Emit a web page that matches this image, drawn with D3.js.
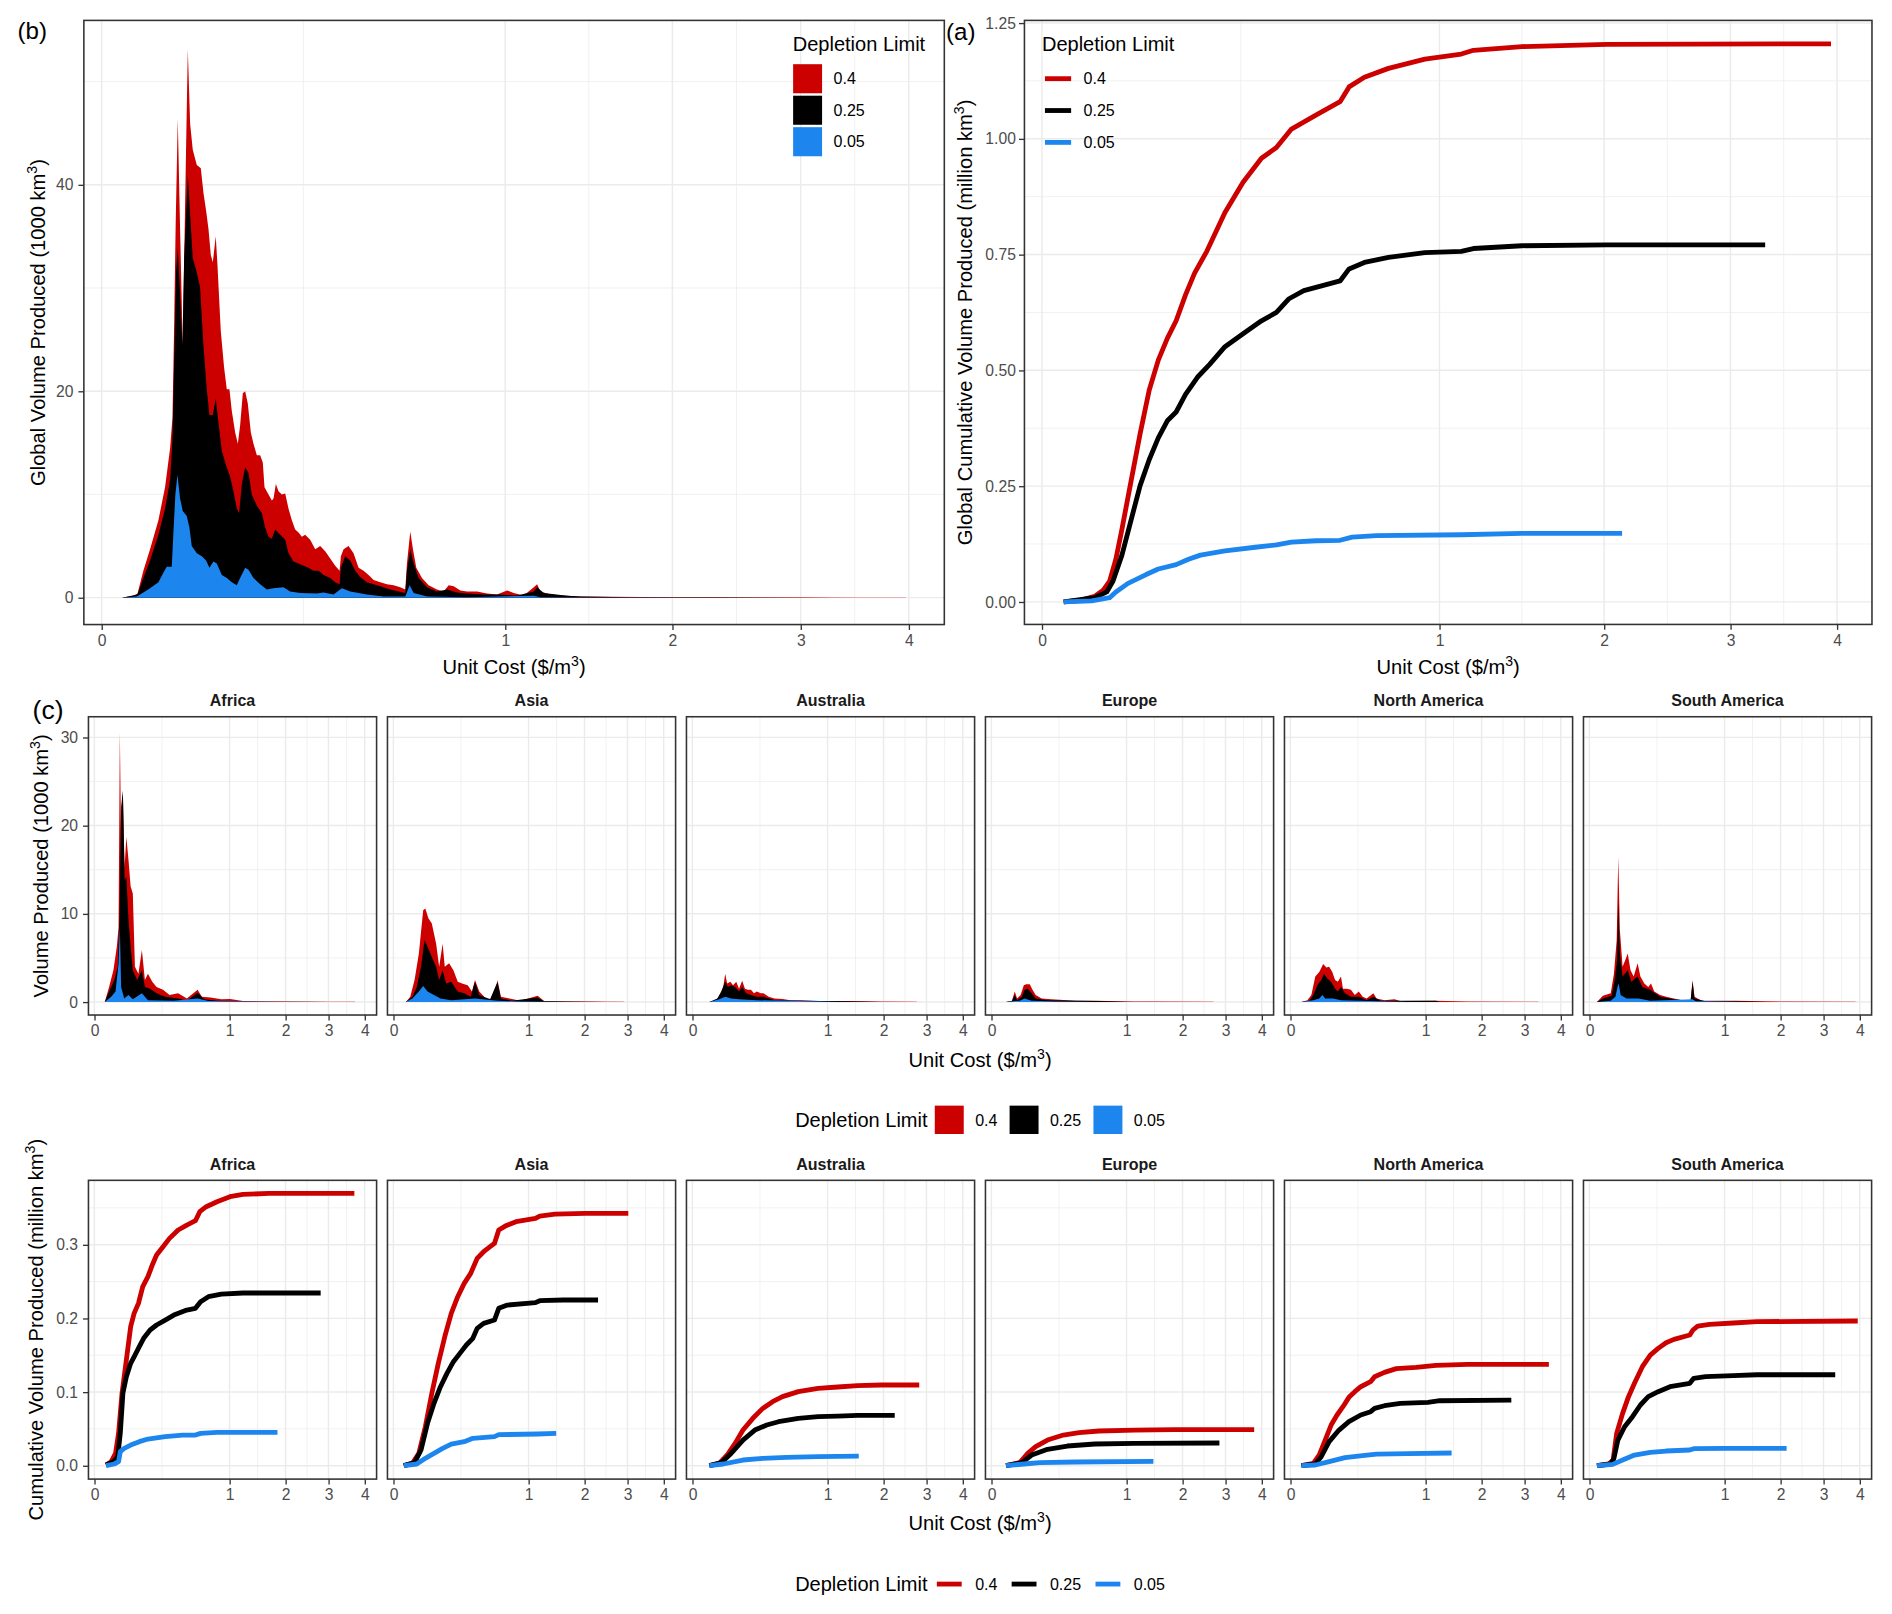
<!DOCTYPE html>
<html>
<head>
<meta charset="utf-8">
<script src="https://cdn.jsdelivr.net/npm/d3@7"></script>
<style>
  body { margin: 0; background: #fff; }
  text { font-family: "Liberation Sans", Arial, Helvetica, sans-serif; }
</style>
</head>
<body>
<svg id="chart"></svg>
<script>
// depletion limits and their colours
var limits = ["0.4", "0.25", "0.05"];
var limitColors = ["#CD0000", "#000000", "#1C86EE"];
var regions = ["Africa", "Asia", "Australia", "Europe", "North America", "South America"];

var costTicks = [0, 1, 2, 3, 4];
var globalVolTicks = [0, 20, 40];
var globalVolMinor = [10, 30, 50];
var globalCumTicks = [0, 0.25, 0.5, 0.75, 1, 1.25];
var globalCumMinor = [0.125, 0.375, 0.625, 0.875, 1.125];
var regionVolTicks = [0, 10, 20, 30];
var regionVolMinor = [5, 15, 25];
var regionCumTicks = [0, 0.1, 0.2, 0.3];
var regionCumMinor = [0.05, 0.15, 0.25, 0.35];

// (b) global volume produced, [unit cost, 1000 km3]
var globalVol40 = [[0.0025,0],[0.0062,0.18],[0.0079,0.4],[0.0107,2.6],[0.0144,4.7],[0.0198,7.5],[0.0247,10.7],[0.0288,14.5],[0.0308,17.4],[0.0322,25.8],[0.0337,36.4],[0.0356,46.4],[0.0378,35.7],[0.0404,24.4],[0.0428,38.2],[0.0456,53.1],[0.0481,45.9],[0.0510,43.4],[0.0556,41.9],[0.0604,41.6],[0.0637,39.2],[0.0670,37.5],[0.0701,35.7],[0.0732,33.2],[0.0759,32.5],[0.0800,35.0],[0.0824,32.2],[0.0872,25.8],[0.0921,22.3],[0.0962,20.2],[0.1003,20.2],[0.1040,18.1],[0.1095,16.0],[0.1139,14.9],[0.1178,16.7],[0.1224,19.8],[0.1265,20.0],[0.1312,18.8],[0.1367,16.0],[0.1416,14.9],[0.1479,13.8],[0.1543,13.8],[0.1595,13.1],[0.1629,10.7],[0.1710,10.0],[0.1779,9.4],[0.1814,9.6],[0.1864,11.0],[0.1921,10.3],[0.1994,10.0],[0.2069,10.1],[0.2145,8.6],[0.2222,7.5],[0.2300,6.6],[0.2380,6.3],[0.2462,5.9],[0.2544,6.1],[0.2671,5.6],[0.2801,4.7],[0.2933,5.0],[0.3069,4.5],[0.3208,3.8],[0.3350,3.1],[0.3476,2.6],[0.3515,4.0],[0.3594,4.7],[0.3744,5.0],[0.3897,4.3],[0.4054,2.9],[0.4213,2.6],[0.4376,2.2],[0.4542,1.7],[0.4767,1.5],[0.4999,1.3],[0.5235,1.2],[0.5476,1.0],[0.5661,0.8],[0.5723,3.3],[0.5849,6.4],[0.5951,4.7],[0.6079,2.9],[0.6301,1.9],[0.6565,1.2],[0.6905,0.8],[0.7183,0.6],[0.7395,1.2],[0.7609,1.1],[0.7900,0.7],[0.8197,0.6],[0.8652,0.6],[0.9119,0.4],[0.9598,0.3],[1.0091,0.7],[1.0426,0.45],[1.0939,0.2],[1.1465,1.0],[1.1643,1.3],[1.1821,0.6],[1.2366,0.3],[1.3303,0.18],[1.4075,0.1],[1.6,0.08],[2.0,0.05],[2.5,0.04],[3.0,0.03],[3.5,0.02],[3.97,0.02]];
var globalVol25 = [[0.0025,0],[0.0079,0.3],[0.0107,1.9],[0.0144,3.6],[0.0198,6.1],[0.0247,8.6],[0.0288,11.4],[0.0308,15.3],[0.0322,22.3],[0.0340,31.5],[0.0356,33.9],[0.0378,29.4],[0.0401,24.4],[0.0418,32.9],[0.0456,41.0],[0.0481,37.1],[0.0510,32.9],[0.0556,31.5],[0.0595,30.1],[0.0637,24.4],[0.0679,20.2],[0.0714,17.7],[0.0759,17.7],[0.0800,19.3],[0.0838,17.0],[0.0887,14.2],[0.0952,12.8],[0.1014,11.7],[0.1067,10.3],[0.1122,8.6],[0.1161,8.2],[0.1207,11.0],[0.1265,12.6],[0.1324,12.1],[0.1385,10.0],[0.1479,8.9],[0.1576,8.2],[0.1642,6.8],[0.1710,5.9],[0.1779,5.7],[0.1849,6.6],[0.1957,6.1],[0.2069,5.6],[0.2145,4.3],[0.2261,3.5],[0.2380,3.3],[0.2503,3.1],[0.2629,2.9],[0.2757,2.6],[0.2889,2.6],[0.3024,2.2],[0.3208,1.9],[0.3350,1.5],[0.3476,1.3],[0.3515,2.9],[0.3643,4.0],[0.3795,3.6],[0.3949,2.6],[0.4106,2.0],[0.4322,1.5],[0.4654,1.2],[0.5116,0.8],[0.5661,0.45],[0.5723,2.6],[0.5849,4.7],[0.5977,3.3],[0.6170,1.9],[0.6498,1.0],[0.6905,0.6],[0.7324,0.8],[0.7754,0.5],[0.8197,0.4],[0.8962,0.3],[0.9761,0.3],[1.0596,0.2],[1.1465,0.6],[1.1643,1.0],[1.2001,0.45],[1.3303,0.18],[1.4075,0.1],[1.7,0.05],[2.3,0.03],[3.3,0]];
var globalVol05 = [[0.0025,0],[0.0076,0.1],[0.0107,0.5],[0.0144,0.9],[0.0198,1.5],[0.0234,2.4],[0.0260,3.0],[0.0302,3.0],[0.0317,6.4],[0.0334,10.0],[0.0353,11.9],[0.0378,9.6],[0.0404,8.4],[0.0445,7.9],[0.0473,6.8],[0.0499,5.0],[0.0556,4.3],[0.0616,4.0],[0.0670,3.6],[0.0714,2.9],[0.0768,3.5],[0.0814,3.3],[0.0887,2.2],[0.0962,1.9],[0.1040,1.5],[0.1122,1.2],[0.1178,1.9],[0.1265,2.9],[0.1324,2.7],[0.1416,1.9],[0.1543,1.3],[0.1676,0.8],[0.1814,0.9],[0.2031,1.0],[0.2183,0.6],[0.2421,0.45],[0.2845,0.4],[0.3024,0.5],[0.3303,0.3],[0.3544,0.9],[0.3795,0.6],[0.4322,0.3],[0.4882,0.1],[0.5661,0.1],[0.5824,1.2],[0.5977,0.45],[0.6498,0.1],[0.8197,0.05],[1.1465,0.18],[1.1821,0.05],[1.4075,0.02],[2.13,0]];

// (a) global cumulative volume, [unit cost, million km3]
var globalCum40 = [[0.003,0],[0.0089,0.003],[0.0176,0.012],[0.024,0.026],[0.029,0.045],[0.0346,0.092],[0.0405,0.157],[0.0502,0.26],[0.061,0.363],[0.0728,0.457],[0.0857,0.522],[0.0995,0.569],[0.114,0.607],[0.1305,0.663],[0.1475,0.71],[0.172,0.757],[0.212,0.841],[0.256,0.906],[0.305,0.958],[0.348,0.981],[0.394,1.021],[0.475,1.051],[0.5625,1.08],[0.597,1.112],[0.658,1.133],[0.76,1.152],[0.928,1.172],[1.113,1.183],[1.178,1.191],[1.458,1.199],[2.02,1.204],[3.94,1.205]];
var globalCum25 = [[0.003,0],[0.0176,0.009],[0.0266,0.0215],[0.032,0.045],[0.0405,0.101],[0.0502,0.176],[0.061,0.251],[0.0728,0.307],[0.0857,0.354],[0.0995,0.391],[0.114,0.41],[0.1305,0.448],[0.153,0.485],[0.178,0.513],[0.212,0.551],[0.256,0.579],[0.305,0.607],[0.348,0.625],[0.385,0.654],[0.434,0.672],[0.518,0.686],[0.5625,0.693],[0.597,0.719],[0.658,0.733],[0.76,0.744],[0.928,0.754],[1.113,0.757],[1.178,0.763],[1.458,0.769],[2.02,0.771],[3.31,0.771]];
var globalCum05 = [[0.003,0],[0.0156,0.002],[0.029,0.009],[0.0346,0.0215],[0.0469,0.04],[0.0687,0.059],[0.0857,0.071],[0.114,0.0805],[0.136,0.092],[0.159,0.101],[0.212,0.11],[0.288,0.118],[0.348,0.123],[0.394,0.129],[0.475,0.132],[0.5625,0.133],[0.609,0.14],[0.708,0.143],[1.113,0.145],[1.458,0.148],[2.13,0.148]];

// (c) volume produced by region
var volAfr40 = [[0.0059,0],[0.0118,1.7],[0.0198,3.6],[0.0276,6.3],[0.032,8.5],[0.0355,30.6],[0.0392,17.6],[0.0444,23.6],[0.050,15.3],[0.0559,18.7],[0.0637,16.1],[0.072,13.1],[0.0808,12.3],[0.090,4.0],[0.1062,3.2],[0.1235,5.9],[0.1397,2.5],[0.1569,3.2],[0.1833,2.3],[0.2117,1.7],[0.258,1.4],[0.309,0.8],[0.384,1.0],[0.468,0.4],[0.583,1.4],[0.633,0.6],[0.738,0.5],[0.882,0.3],[1.006,0.35],[1.208,0.1],[1.666,0.05],[2.39,0.03],[3.72,0.02]];
var volAfr25 = [[0.0059,0],[0.0118,1.2],[0.0216,2.5],[0.0298,4.0],[0.0343,9.3],[0.0392,22.1],[0.0444,24.0],[0.050,13.8],[0.0559,14.2],[0.0637,9.3],[0.072,6.3],[0.0808,3.6],[0.100,2.5],[0.1235,3.6],[0.1397,1.7],[0.170,1.5],[0.2117,1.0],[0.2745,0.6],[0.384,0.4],[0.468,0.15],[0.583,1.06],[0.6586,0.3],[0.823,0.15],[1.208,0.04],[2.39,0.02],[3.02,0]];
var volAfr05 = [[0.0059,0],[0.0155,0.6],[0.0245,1.2],[0.032,4.4],[0.0355,8.5],[0.0392,1.7],[0.0486,0.4],[0.0637,0.8],[0.0808,0.3],[0.1235,1.0],[0.1569,0.2],[0.3455,0.15],[0.583,0.4],[0.711,0.1],[1.666,0.02]];
var volAsi40 = [[0.0086,0],[0.0155,0.6],[0.0245,2.5],[0.0355,5.5],[0.0486,10.4],[0.0559,10.6],[0.067,9.5],[0.0808,8.9],[0.100,6.6],[0.1147,4.0],[0.1327,6.6],[0.1445,4.0],[0.1699,4.4],[0.1972,3.6],[0.2266,2.3],[0.258,2.1],[0.302,1.9],[0.338,1.2],[0.3646,2.5],[0.404,1.2],[0.4675,0.4],[0.559,0.3],[0.593,2.5],[0.633,0.6],[0.7386,0.4],[0.882,0.15],[1.139,0.7],[1.243,0.1],[1.585,0.05],[2.91,0.02]];
var volAsi25 = [[0.0086,0],[0.0198,0.6],[0.0298,1.7],[0.0418,4.0],[0.0529,7.0],[0.0637,6.3],[0.0808,5.1],[0.100,4.0],[0.1147,2.5],[0.1327,3.6],[0.152,2.1],[0.1833,2.3],[0.2266,1.2],[0.2746,1.0],[0.327,0.6],[0.3646,2.3],[0.404,0.8],[0.512,0.3],[0.593,2.3],[0.633,0.4],[0.766,0.15],[1.139,0.5],[1.243,0.08],[2.49,0]];
var volAsi05 = [[0.0086,0],[0.0198,0.4],[0.0355,1.2],[0.0486,1.8],[0.0637,1.2],[0.0902,0.8],[0.1212,0.4],[0.1833,0.2],[0.3646,0.4],[0.593,0.15],[0.882,0.05],[1.585,0]];
var volAus40 = [[0.0158,0],[0.0288,0.2],[0.0395,0.6],[0.052,1.7],[0.0589,3.2],[0.0662,2.1],[0.0788,2.3],[0.0907,1.9],[0.1053,2.3],[0.119,1.5],[0.1357,2.4],[0.1512,1.5],[0.1676,1.4],[0.1873,1.4],[0.208,1.0],[0.2271,1.2],[0.2559,1.0],[0.277,1.0],[0.3185,0.6],[0.3699,0.4],[0.4444,0.35],[0.5258,0.2],[0.6372,0.2],[0.8645,0.1],[1.287,0.1],[1.872,0.05],[2.758,0.02]];
var volAus25 = [[0.0158,0],[0.0339,0.4],[0.0456,1.2],[0.0589,2.3],[0.0693,1.7],[0.0821,1.9],[0.0997,1.7],[0.119,1.2],[0.1357,1.7],[0.1582,1.0],[0.1873,0.8],[0.2271,0.6],[0.277,0.6],[0.3699,0.2],[0.614,0.15],[1.287,0.08],[1.954,0]];
var volAus05 = [[0.0158,0],[0.0395,0.3],[0.0589,0.6],[0.0821,0.4],[0.119,0.3],[0.2271,0.2],[0.614,0.1],[1.158,0]];
var volEur40 = [[0.0117,0],[0.0231,0.15],[0.0298,1.2],[0.0361,0.4],[0.0468,0.8],[0.0575,1.9],[0.0662,2.0],[0.0804,2.0],[0.0925,1.4],[0.1072,0.8],[0.1379,0.4],[0.1975,0.3],[0.3843,0.15],[0.6095,0.15],[1.0,0.05],[1.451,0.05],[2.7,0.02]];
var volEur25 = [[0.0117,0],[0.0231,0.1],[0.0298,0.8],[0.0361,0.2],[0.0507,0.6],[0.0603,1.4],[0.0724,1.5],[0.0889,1.0],[0.1072,0.4],[0.1724,0.2],[0.6095,0.1],[1.12,0]];
var volEur05 = [[0.0117,0],[0.0443,0.15],[0.0603,0.4],[0.0889,0.15],[0.2244,0.05],[0.587,0]];
var volNAm40 = [[0.0067,0],[0.0158,0.2],[0.024,0.8],[0.0339,2.9],[0.0456,3.4],[0.0589,4.3],[0.0708,3.9],[0.0821,4.0],[0.0961,3.4],[0.1092,2.5],[0.1231,2.3],[0.1401,2.9],[0.1512,1.5],[0.1748,1.5],[0.2001,1.4],[0.2271,0.8],[0.2559,1.2],[0.2863,0.6],[0.3185,0.4],[0.377,1.0],[0.4063,0.4],[0.4843,0.2],[0.5914,0.3],[0.6608,0.1],[1.158,0.15],[1.716,0.05],[3.37,0.02]];
var volNAm25 = [[0.0067,0],[0.0197,0.15],[0.0288,0.8],[0.0395,1.9],[0.052,2.5],[0.0618,3.2],[0.0739,2.7],[0.0907,2.3],[0.1092,1.5],[0.1231,1.2],[0.1401,1.7],[0.1628,1.0],[0.2001,0.6],[0.2559,0.6],[0.3185,0.2],[0.377,0.6],[0.4444,0.15],[1.158,0.15],[1.222,0]];
var volNAm05 = [[0.0067,0],[0.0288,0.2],[0.0456,0.4],[0.0561,0.8],[0.0662,0.4],[0.0997,0.4],[0.1401,0.2],[0.3352,0.1],[0.759,0]];
var volSAm40 = [[0.0031,0],[0.0099,0.7],[0.0249,1.0],[0.0329,3.2],[0.0407,7.0],[0.0456,16.5],[0.0507,8.2],[0.0603,4.0],[0.0708,4.8],[0.0804,5.5],[0.0925,3.6],[0.1072,2.9],[0.1273,4.4],[0.1423,2.9],[0.1652,2.1],[0.1898,1.7],[0.208,2.1],[0.2299,1.2],[0.2739,0.8],[0.3218,0.6],[0.3915,0.4],[0.4681,0.2],[0.5603,0.15],[0.5824,2.5],[0.605,0.6],[0.6896,0.15],[1.164,0.15],[2.086,0.05],[3.88,0.02]];
var volSAm25 = [[0.0031,0],[0.0099,0.4],[0.0268,0.7],[0.035,2.5],[0.0419,4.8],[0.0456,11.6],[0.0507,5.5],[0.0603,2.9],[0.0804,3.6],[0.0961,2.3],[0.1273,2.9],[0.1535,1.7],[0.2028,1.4],[0.2739,0.6],[0.3915,0.3],[0.5603,0.1],[0.5824,2.3],[0.605,0.4],[0.739,0.08],[1.164,0.08],[1.686,0]];
var volSAm05 = [[0.0031,0],[0.0249,0.15],[0.0372,0.6],[0.0431,1.7],[0.0468,2.1],[0.0534,0.8],[0.0755,0.4],[0.1315,0.4],[0.2028,0.15],[0.5824,0.3],[0.6186,0.08],[1.327,0]];

// (c) cumulative volume by region
var cumAfr40 = [[0.0074,0.001],[0.0155,0.0054],[0.0245,0.0167],[0.032,0.0439],[0.0418,0.0982],[0.0559,0.1434],[0.072,0.1887],[0.0864,0.2068],[0.1062,0.2204],[0.128,0.243],[0.157,0.2566],[0.1833,0.2724],[0.2117,0.286],[0.258,0.2973],[0.309,0.3086],[0.3842,0.32],[0.4675,0.3267],[0.559,0.3326],[0.6077,0.3448],[0.6848,0.3516],[0.8232,0.3584],[1.006,0.3652],[1.208,0.3683],[1.666,0.3697],[3.70,0.3697]];
var cumAfr25 = [[0.0074,0.001],[0.0198,0.0054],[0.0298,0.0122],[0.0367,0.0439],[0.0445,0.0982],[0.0559,0.1208],[0.072,0.1389],[0.0902,0.1502],[0.1104,0.1615],[0.1327,0.1729],[0.1699,0.1842],[0.2117,0.191],[0.2746,0.1977],[0.3456,0.2045],[0.4675,0.2113],[0.559,0.2136],[0.6177,0.2226],[0.7114,0.2294],[0.8823,0.233],[1.208,0.2344],[2.803,0.2344]];
var cumAfr05 = [[0.0074,0],[0.0216,0.0023],[0.032,0.0054],[0.0367,0.019],[0.0486,0.0235],[0.072,0.028],[0.1104,0.0326],[0.157,0.0362],[0.2746,0.0394],[0.4248,0.0416],[0.559,0.0416],[0.6177,0.0439],[0.8232,0.0452],[1.835,0.0452]];
var cumAsi40 = [[0.0059,0],[0.0198,0.0032],[0.0355,0.0167],[0.0559,0.0529],[0.0808,0.0982],[0.1104,0.1389],[0.1445,0.1751],[0.1833,0.2068],[0.2266,0.2294],[0.2746,0.2475],[0.327,0.2611],[0.3842,0.2814],[0.4459,0.2905],[0.5122,0.2973],[0.559,0.3018],[0.6077,0.3199],[0.6848,0.3253],[0.8232,0.3312],[1.1048,0.3357],[1.173,0.3389],[1.428,0.3416],[2.012,0.3425],[3.021,0.3425]];
var cumAsi25 = [[0.0059,0],[0.0245,0.0041],[0.0418,0.0213],[0.0637,0.0575],[0.0902,0.0846],[0.1213,0.1072],[0.157,0.1253],[0.1972,0.1412],[0.2421,0.1525],[0.2915,0.1638],[0.3456,0.1729],[0.3842,0.1864],[0.4459,0.1932],[0.559,0.1977],[0.6077,0.2136],[0.7114,0.2181],[1.1048,0.2213],[1.173,0.224],[1.5846,0.2249],[2.293,0.2249]];
var cumAsi05 = [[0.0059,0],[0.0298,0.0023],[0.0559,0.01],[0.0902,0.0167],[0.1327,0.0235],[0.1833,0.0294],[0.2746,0.0326],[0.3456,0.0371],[0.559,0.0394],[0.6077,0.0421],[1.1387,0.043],[1.451,0.0439]];
var cumAus40 = [[0.0158,0],[0.0395,0.0032],[0.0662,0.0145],[0.0997,0.0303],[0.1401,0.0484],[0.2001,0.0643],[0.2709,0.0778],[0.3523,0.0869],[0.4444,0.0937],[0.614,0.1005],[0.8645,0.105],[1.158,0.1068],[1.494,0.1086],[1.953,0.1095],[2.817,0.1095]];
var cumAus25 = [[0.0158,0],[0.0456,0.0041],[0.0821,0.0167],[0.1401,0.0348],[0.2134,0.0484],[0.3022,0.0552],[0.4063,0.0597],[0.614,0.0643],[0.8645,0.0665],[1.158,0.0674],[1.494,0.0683],[2.241,0.0683]];
var cumAus05 = [[0.0158,0],[0.052,0.0023],[0.1401,0.0077],[0.2709,0.01],[0.4843,0.0113],[0.8645,0.0122],[1.515,0.0131]];
var cumEur40 = [[0.0117,0],[0.0443,0.0041],[0.0724,0.0167],[0.1072,0.0258],[0.1724,0.0348],[0.2832,0.0416],[0.4214,0.0448],[0.6325,0.0471],[1.12,0.0484],[1.825,0.0489],[3.78,0.0489]];
var cumEur25 = [[0.0117,0],[0.0507,0.0041],[0.0889,0.0145],[0.1724,0.0222],[0.3152,0.0267],[0.5869,0.0294],[1.12,0.0303],[2.846,0.0308]];
var cumEur05 = [[0.0117,0],[0.0575,0.0023],[0.1273,0.0041],[0.3843,0.005],[1.437,0.0059]];
var cumNAm40 = [[0.0067,0],[0.0288,0.0032],[0.0456,0.0145],[0.0662,0.0348],[0.0907,0.0552],[0.119,0.0688],[0.1512,0.0801],[0.1873,0.0928],[0.2271,0.1005],[0.2709,0.1072],[0.3523,0.114],[0.3879,0.1208],[0.4843,0.1267],[0.614,0.1317],[0.8645,0.1335],[1.158,0.1362],[1.716,0.1376],[3.657,0.1376]];
var cumNAm25 = [[0.0067,0],[0.0339,0.0023],[0.052,0.0122],[0.0821,0.0326],[0.1293,0.0484],[0.1873,0.0597],[0.2709,0.0688],[0.3523,0.0733],[0.3879,0.0778],[0.4843,0.0814],[0.6608,0.0846],[1.0353,0.086],[1.2216,0.0882],[2.672,0.0891]];
var cumNAm05 = [[0.0067,0],[0.0339,0.0009],[0.0821,0.0054],[0.1628,0.0109],[0.3022,0.014],[0.4063,0.0158],[0.759,0.0163],[1.423,0.0172]];
var cumSAm40 = [[0.0031,0],[0.0205,0.0023],[0.0308,0.0077],[0.0407,0.0439],[0.0603,0.071],[0.0838,0.0937],[0.1111,0.1118],[0.1535,0.1344],[0.2028,0.1502],[0.2589,0.1593],[0.3218,0.167],[0.3915,0.1715],[0.5516,0.1774],[0.5869,0.1842],[0.6419,0.1896],[0.7901,0.1919],[1.1327,0.1937],[1.5371,0.1955],[3.942,0.1964]];
var cumSAm25 = [[0.0031,0],[0.0249,0.0023],[0.0329,0.01],[0.0443,0.0348],[0.0677,0.0529],[0.1016,0.0665],[0.1423,0.0824],[0.1898,0.0937],[0.2589,0.1005],[0.3558,0.1072],[0.5516,0.1118],[0.5959,0.1186],[0.739,0.1208],[1.1327,0.1222],[1.5371,0.1235],[3.308,0.1235]];
var cumSAm05 = [[0.0031,0],[0.0298,0.0018],[0.0603,0.0077],[0.1111,0.0145],[0.2028,0.0181],[0.3218,0.0199],[0.5516,0.0213],[0.5959,0.0231],[1.0117,0.0235],[2.129,0.0235]];

var regionVol = [[volAfr40, volAfr25, volAfr05], [volAsi40, volAsi25, volAsi05], [volAus40, volAus25, volAus05],
                 [volEur40, volEur25, volEur05], [volNAm40, volNAm25, volNAm05], [volSAm40, volSAm25, volSAm05]];
var regionCum = [[cumAfr40, cumAfr25, cumAfr05], [cumAsi40, cumAsi25, cumAsi05], [cumAus40, cumAus25, cumAus05],
                 [cumEur40, cumEur25, cumEur05], [cumNAm40, cumNAm25, cumNAm05], [cumSAm40, cumSAm25, cumSAm05]];

// drawing is done in a 1568 wide space and scaled to the window
var W = 1568, H = 1337.6;
var svg = d3.select("#chart")
  .attr("width", 1892)
  .attr("height", 1614)
  .attr("viewBox", "0 0 " + W + " " + H);

var gridColor = "#EBEBEB";
var clipId = 0;

// minor x breaks sit halfway between major ones on the sqrt scale
var costMinor = d3.pairs(costTicks).map(function(p) {
  var m = (Math.sqrt(p[0]) + Math.sqrt(p[1])) / 2;
  return m * m;
});

function supTitle(sel, before, after) {
  sel.append("tspan").text(before);
  sel.append("tspan").attr("baseline-shift", "super").attr("font-size", "70%").text("3");
  sel.append("tspan").text(after);
}

var makePanel = function(p) {
  var g = svg.append("g");
  var unit = p.w / 2.132;
  var x = d3.scaleSqrt().domain([0, 4]).range([p.left + 0.044 * unit, p.left + 2.044 * unit]);
  var y = d3.scaleLinear().domain(p.yDomain).range([p.top + p.h, p.top]);

  g.append("rect").attr("x", p.left).attr("y", p.top).attr("width", p.w).attr("height", p.h).attr("fill", "#fff");

  // grid
  g.selectAll(".gxm").data(costMinor).enter().append("line")
    .attr("x1", x).attr("x2", x).attr("y1", p.top).attr("y2", p.top + p.h)
    .attr("stroke", gridColor).attr("stroke-width", 0.6);
  g.selectAll(".gym").data(p.yMinor).enter().append("line")
    .attr("y1", y).attr("y2", y).attr("x1", p.left).attr("x2", p.left + p.w)
    .attr("stroke", gridColor).attr("stroke-width", 0.6);
  g.selectAll(".gx").data(costTicks).enter().append("line")
    .attr("x1", x).attr("x2", x).attr("y1", p.top).attr("y2", p.top + p.h)
    .attr("stroke", gridColor).attr("stroke-width", 1.2);
  g.selectAll(".gy").data(p.yTicks).enter().append("line")
    .attr("y1", y).attr("y2", y).attr("x1", p.left).attr("x2", p.left + p.w)
    .attr("stroke", gridColor).attr("stroke-width", 1.2);

  var id = "clip" + (clipId++);
  svg.append("clipPath").attr("id", id).append("rect")
    .attr("x", p.left).attr("y", p.top).attr("width", p.w).attr("height", p.h);
  var plot = g.append("g").attr("clip-path", "url(#" + id + ")");

  return {g: g, plot: plot, x: x, y: y, p: p};
};

var finishPanel = function(pan, showY) {
  var p = pan.p;
  pan.g.append("rect").attr("x", p.left).attr("y", p.top).attr("width", p.w).attr("height", p.h)
    .attr("fill", "none").attr("stroke", "#333333").attr("stroke-width", 1.3);

  var axes = [];
  axes.push(pan.g.append("g").attr("transform", "translate(0," + (p.top + p.h) + ")")
    .call(d3.axisBottom(pan.x).tickValues(costTicks).tickFormat(d3.format("d")).tickSize(4.5).tickPadding(3.9)));
  // facets share the y axis, only the first one draws it
  if (showY) {
    axes.push(pan.g.append("g").attr("transform", "translate(" + p.left + ",0)")
      .call(d3.axisLeft(pan.y).tickValues(p.yTicks).tickFormat(p.yFmt).tickSize(4.5).tickPadding(p.yPad)));
  }
  axes.forEach(function(a) {
    a.select(".domain").remove();
    a.selectAll(".tick line").attr("stroke", "#333333").attr("stroke-width", 1.1);
    a.selectAll(".tick text").attr("fill", "#4D4D4D").attr("font-size", 13)
      .attr("font-family", "'Liberation Sans', Arial, sans-serif");
  });
};

var drawAreas = function(pan, series) {
  var area = d3.area()
    .x(function(d) { return pan.x(d[0]); })
    .y0(pan.y(0))
    .y1(function(d) { return pan.y(d[1]); });
  pan.plot.selectAll("path.area").data(series).enter().append("path")
    .attr("class", "area")
    .attr("d", area)
    .attr("fill", function(d, i) { return limitColors[i]; });
};

var drawLines = function(pan, series) {
  var line = d3.line()
    .x(function(d) { return pan.x(d[0]); })
    .y(function(d) { return pan.y(d[1]); });
  pan.plot.selectAll("path.cum").data(series).enter().append("path")
    .attr("class", "cum")
    .attr("d", line)
    .attr("fill", "none")
    .attr("stroke-width", 4)
    .attr("stroke-linejoin", "round")
    .attr("stroke", function(d, i) { return limitColors[i]; });
};

// ---- (b) global volume
var pb = makePanel({left: 69.5, top: 16.9, w: 713.1, h: 500.7, yDomain: [-2.607, 55.92],
  yTicks: globalVolTicks, yMinor: globalVolMinor, yFmt: d3.format("d"), yPad: 4.1});
drawAreas(pb, [globalVol40, globalVol25, globalVol05]);
finishPanel(pb, true);

// ---- (a) global cumulative
var pa = makePanel({left: 849, top: 16.9, w: 702.4, h: 500.6, yDomain: [-0.0487, 1.2556],
  yTicks: globalCumTicks, yMinor: globalCumMinor, yFmt: d3.format(".2f"), yPad: 2.6});
drawLines(pa, [globalCum40, globalCum25, globalCum05]);
finishPanel(pa, true);

// ---- (c) regional facets
var facetLeft = 73.3, facetW = 238.8, facetStep = 247.8;
regions.forEach(function(r, i) {
  var left = facetLeft + i * facetStep;
  var pv = makePanel({left: left, top: 594.0, w: facetW, h: 247.2, yDomain: [-1.478, 32.34],
    yTicks: regionVolTicks, yMinor: regionVolMinor, yFmt: d3.format("d"), yPad: 4.1});
  drawAreas(pv, regionVol[i]);
  finishPanel(pv, i === 0);

  var pc = makePanel({left: left, top: 978.2, w: facetW, h: 247.6, yDomain: [-0.0182, 0.3874],
    yTicks: regionCumTicks, yMinor: regionCumMinor, yFmt: d3.format(".1f"), yPad: 4.1});
  drawLines(pc, regionCum[i]);
  finishPanel(pc, i === 0);

  // facet strips
  [580.7, 965].forEach(function(sy) {
    svg.append("text").attr("x", left + facetW / 2).attr("y", sy).attr("dy", "0.36em")
      .attr("text-anchor", "middle").attr("font-size", 13.3).attr("font-weight", "bold")
      .attr("fill", "#1A1A1A").text(r);
  });
});

// ---- titles
var titleSize = 16.7;
supTitle(svg.append("text").attr("x", 426).attr("y", 558.9).attr("text-anchor", "middle").attr("font-size", titleSize), "Unit Cost ($/m", ")");
supTitle(svg.append("text").attr("x", 1200.2).attr("y", 558.9).attr("text-anchor", "middle").attr("font-size", titleSize), "Unit Cost ($/m", ")");
supTitle(svg.append("text").attr("x", 812.2).attr("y", 884).attr("text-anchor", "middle").attr("font-size", titleSize), "Unit Cost ($/m", ")");
supTitle(svg.append("text").attr("x", 812.2).attr("y", 1268).attr("text-anchor", "middle").attr("font-size", titleSize), "Unit Cost ($/m", ")");

supTitle(svg.append("text").attr("transform", "translate(37,267.3) rotate(-90)").attr("text-anchor", "middle").attr("font-size", titleSize), "Global Volume Produced (1000 km", ")");
supTitle(svg.append("text").attr("transform", "translate(805.5,267.2) rotate(-90)").attr("text-anchor", "middle").attr("font-size", titleSize), "Global Cumulative Volume Produced (million km", ")");
supTitle(svg.append("text").attr("transform", "translate(39.5,717.6) rotate(-90)").attr("text-anchor", "middle").attr("font-size", titleSize), "Volume Produced (1000 km", ")");
supTitle(svg.append("text").attr("transform", "translate(36,1102) rotate(-90)").attr("text-anchor", "middle").attr("font-size", titleSize), "Cumulative Volume Produced (million km", ")");

// panel tags
svg.append("text").attr("x", 14.5).attr("y", 25.1).attr("dy", "0.36em").attr("font-size", 20).text("(b)");
svg.append("text").attr("x", 784).attr("y", 26).attr("dy", "0.36em").attr("font-size", 20).text("(a)");
svg.append("text").attr("x", 27).attr("y", 587.7).attr("dy", "0.36em").attr("font-size", 22).text("(c)");

// ---- legends
var legendTitle = function(x, y) {
  svg.append("text").attr("x", x).attr("y", y).attr("font-size", 16.6).text("Depletion Limit");
};
var legendLabel = function(x, y, t) {
  svg.append("text").attr("x", x).attr("y", y).attr("dy", "0.36em").attr("font-size", 13.3).text(t);
};

// (b) inside legend, filled keys
legendTitle(657, 42.4);
limits.forEach(function(l, i) {
  var ky = 53.2 + i * 26.1;
  svg.append("rect").attr("x", 657.3).attr("y", ky).attr("width", 24).attr("height", 24.1).attr("fill", limitColors[i]);
  legendLabel(690.8, ky + 12, l);
});

// (a) inside legend, line keys
legendTitle(863.5, 42.4);
limits.forEach(function(l, i) {
  var ky = 65.2 + i * 26.4;
  svg.append("line").attr("x1", 866).attr("x2", 887.7).attr("y1", ky).attr("y2", ky)
    .attr("stroke", limitColors[i]).attr("stroke-width", 4);
  legendLabel(898, ky, l);
});

// (c) bottom legends
var keyX = [774.7, 836.7, 906.2];
var labX = [808.2, 870.1, 939.6];
legendTitle(659, 934.1);
limits.forEach(function(l, i) {
  svg.append("rect").attr("x", keyX[i]).attr("y", 916.3).attr("width", 24).attr("height", 23.5).attr("fill", limitColors[i]);
  legendLabel(labX[i], 928.2, l);
});
legendTitle(659, 1318.7);
limits.forEach(function(l, i) {
  svg.append("line").attr("x1", keyX[i] + 1.7).attr("x2", keyX[i] + 22.3).attr("y1", 1312.8).attr("y2", 1312.8)
    .attr("stroke", limitColors[i]).attr("stroke-width", 4);
  legendLabel(labX[i], 1312.8, l);
});
</script>
</body>
</html>
